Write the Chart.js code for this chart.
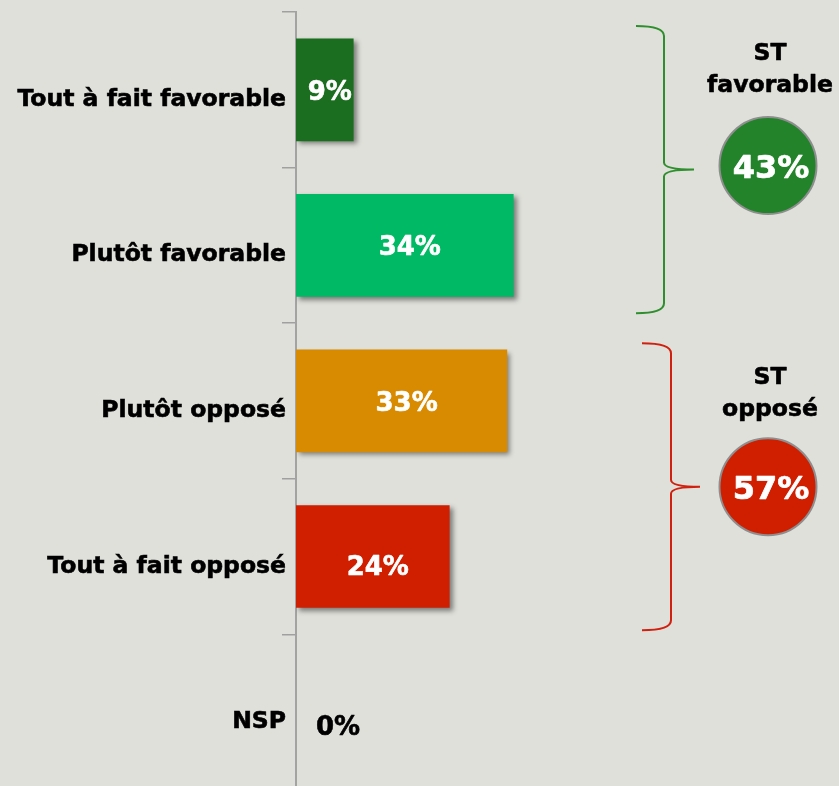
<!DOCTYPE html>
<html>
<head>
<meta charset="utf-8">
<script src="https://cdn.jsdelivr.net/npm/chart.js@4.4.1/dist/chart.umd.min.js"></script>
<style>
  html, body { margin: 0; padding: 0; background: #dfe0da; overflow: hidden; }
  #wrap { width: 839px; height: 786px; overflow: hidden; }
</style>
</head>
<body>
<div id="wrap"><canvas id="chart" width="839" height="800"></canvas></div>
<script>
// categories and values
const categories = ['Tout à fait favorable', 'Plutôt favorable', 'Plutôt opposé', 'Tout à fait opposé', 'NSP'];
const values = [9, 34, 33, 24, 0];
const barColors = ['#1b6e1f', '#00b964', '#d88a00', '#cf1e00', '#b0b0b0'];

// grouped totals on the right
const groupNames = [['ST', 'favorable'], ['ST', 'opposé']];
const groupTotals = [43, 57];
const groupRanges = [[0, 1], [2, 3]];
const groupColors = ['#2f8f2f', '#d02010'];
const circleColors = ['#22832a', '#cf1e00'];

const FONT = '"DejaVu Sans", Verdana, sans-serif';

// filled text with a thin outline so it looks as heavy as the original
function heavyText(ctx, txt, x, y, w) {
    ctx.lineWidth = w;
    ctx.strokeStyle = ctx.fillStyle;
    ctx.lineJoin = 'round';
    ctx.strokeText(txt, x, y);
    ctx.fillText(txt, x, y);
}

// background
const bgPlugin = {
    id: 'bg',
    beforeDraw(chart) {
        const ctx = chart.ctx;
        ctx.save();
        ctx.fillStyle = '#dfe0da';
        ctx.fillRect(0, 0, chart.width, chart.height);
        ctx.restore();
    }
};

// drop shadow under bars + value labels
const barPlugin = {
    id: 'barShadow',
    beforeDatasetsDraw(chart) {
        const ctx = chart.ctx;
        ctx.save();
        ctx.shadowColor = 'rgba(0,0,0,0.45)';
        ctx.shadowBlur = 5;
        ctx.shadowOffsetX = 3;
        ctx.shadowOffsetY = 3;
    },
    afterDatasetsDraw(chart) {
        const ctx = chart.ctx;
        ctx.restore();

        const meta = chart.getDatasetMeta(0);
        const labelDy = [0, 0, 0, 8, 13];
        ctx.save();
        ctx.font = 'bold 26px ' + FONT;
        ctx.textBaseline = 'alphabetic';
        meta.data.forEach((bar, i) => {
            const v = values[i];
            const txt = v + '%';
            if (v === 0) {
                ctx.fillStyle = '#000';
                ctx.textAlign = 'left';
                heavyText(ctx, txt, bar.base + 20, bar.y + 10 + labelDy[i], 0.6);
            } else {
                ctx.fillStyle = '#fff';
                ctx.textAlign = 'center';
                heavyText(ctx, txt, (bar.base + bar.x) / 2 + 5, bar.y + 10 + labelDy[i], 0.6);
            }
        });
        ctx.restore();
    }
};

// curly braces, group names and total circles
const groupPlugin = {
    id: 'groups',
    afterDraw(chart) {
        const ctx = chart.ctx;
        const y = chart.scales.y;
        const half = (y.getPixelForValue(1) - y.getPixelForValue(0)) / 2;
        const insets = [[14, 10], [20, 4]];
        const braceX = [[636, 664, 694], [642, 671, 700]];
        const nameDy = [34, 41];
        const circleDy = [-4, 0];

        groupRanges.forEach((r, g) => {
            const top = y.getPixelForValue(r[0]) - half + insets[g][0];
            const bottom = y.getPixelForValue(r[1]) + half - insets[g][1];
            const mid = (top + bottom) / 2;
            const [x0, xv, xt] = braceX[g];

            ctx.save();
            ctx.strokeStyle = groupColors[g];
            ctx.lineWidth = 2;
            ctx.beginPath();
            ctx.moveTo(x0, top);
            ctx.quadraticCurveTo(xv, top, xv, top + 10);
            ctx.lineTo(xv, mid - 7);
            ctx.quadraticCurveTo(xv, mid, xt, mid);
            ctx.quadraticCurveTo(xv, mid, xv, mid + 7);
            ctx.lineTo(xv, bottom - 10);
            ctx.quadraticCurveTo(xv, bottom, x0, bottom);
            ctx.stroke();

            // group label
            const cx = 769;
            ctx.fillStyle = '#000';
            ctx.font = 'bold 23.5px ' + FONT;
            ctx.textAlign = 'center';
            ctx.textBaseline = 'alphabetic';
            const baseY = top + nameDy[g];
            heavyText(ctx, groupNames[g][0], cx + 1, baseY, 0.6);
            heavyText(ctx, groupNames[g][1], cx + 1, baseY + 31.5, 0.6);

            // circle with total
            const cy = mid + circleDy[g];
            ctx.beginPath();
            ctx.arc(cx - 1, cy, 48.5, 0, Math.PI * 2);
            ctx.fillStyle = circleColors[g];
            ctx.fill();
            ctx.lineWidth = 2;
            ctx.strokeStyle = '#8e8e8e';
            ctx.stroke();

            ctx.fillStyle = '#fff';
            ctx.font = 'bold 32px ' + FONT;
            heavyText(ctx, groupTotals[g] + '%', cx + 2, cy + 12, 0.7);
            ctx.restore();
        });
    }
};

new Chart(document.getElementById('chart'), {
    type: 'bar',
    data: {
        labels: categories,
        datasets: [{
            data: values,
            backgroundColor: barColors,
            borderWidth: 0,
            categoryPercentage: 1,
            barPercentage: 0.66
        }]
    },
    options: {
        indexAxis: 'y',
        responsive: false,
        animation: false,
        layout: { padding: { top: 12, right: 223, bottom: 0, left: 0 } },
        plugins: {
            legend: { display: false },
            tooltip: { enabled: false }
        },
        scales: {
            x: {
                display: false,
                min: 0,
                max: 50
            },
            y: {
                offset: true,
                afterFit(scale) { scale.width = 296; },
                grid: {
                    offset: true,
                    drawOnChartArea: false,
                    drawTicks: true,
                    tickLength: 14,
                    color: '#a0a0a0',
                    lineWidth: 1.5
                },
                border: { display: true, color: '#a3a3a3', width: 2 },
                ticks: {
                    color: '#000',
                    padding: -4,
                    labelOffset: 10,
                    textStrokeColor: '#000',
                    textStrokeWidth: 0.6,
                    font: { family: FONT, size: 23.5, weight: 'bold' }
                }
            }
        }
    },
    plugins: [bgPlugin, barPlugin, groupPlugin]
});
</script>
</body>
</html>
